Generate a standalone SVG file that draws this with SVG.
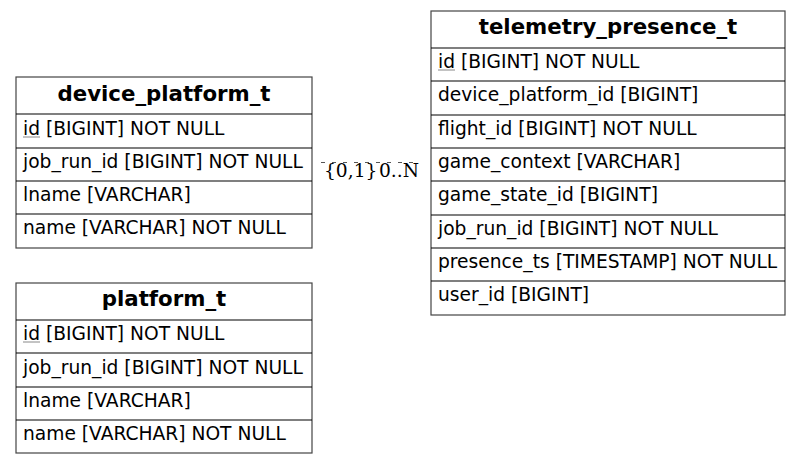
<svg xmlns="http://www.w3.org/2000/svg" width="800" height="464" viewBox="0 0 800 464">
<style>
.box{fill:#fff;stroke:#444;stroke-width:1.2}
.sep{stroke:#000;stroke-width:1.2}
.h{font-family:"DejaVu Sans",sans-serif;font-size:21.3px;font-weight:bold;text-anchor:middle;fill:#000}
.r{font-family:"DejaVu Sans",sans-serif;font-size:18.67px;fill:#000}
.u{stroke:#888;stroke-width:1}
.lbl{font-family:"DejaVu Serif",serif;font-size:18.67px;fill:#000}
.edge{stroke:#555;stroke-width:1;stroke-dasharray:4,7;fill:none}
</style>
<rect width="800" height="464" fill="#fff"/>
<g id="connectors">
<path class="edge" d="M321,162.5 L420,162.5"/>
<text class="lbl" x="324" y="177">{0,1}</text>
<text class="lbl" x="379" y="177">0..N</text>
</g>
<g id="device_platform_t">
<rect class="box" x="16" y="77" width="296" height="171"/>
<line class="sep" x1="16" y1="114" x2="312" y2="114"/>
<line class="sep" x1="16" y1="148" x2="312" y2="148"/>
<line class="sep" x1="16" y1="181" x2="312" y2="181"/>
<line class="sep" x1="16" y1="214" x2="312" y2="214"/>
<text class="h" x="164" y="101">device_platform_t</text>
<text class="r" x="23" y="135">id [BIGINT] NOT NULL</text>
<line class="u" x1="23" y1="137" x2="40" y2="137"/>
<text class="r" x="23" y="168">job_run_id [BIGINT] NOT NULL</text>
<text class="r" x="23" y="201">lname [VARCHAR]</text>
<text class="r" x="23" y="234">name [VARCHAR] NOT NULL</text>
</g>
<g id="platform_t">
<rect class="box" x="16" y="283" width="296" height="170"/>
<line class="sep" x1="16" y1="320" x2="312" y2="320"/>
<line class="sep" x1="16" y1="353" x2="312" y2="353"/>
<line class="sep" x1="16" y1="387" x2="312" y2="387"/>
<line class="sep" x1="16" y1="420" x2="312" y2="420"/>
<text class="h" x="164" y="306">platform_t</text>
<text class="r" x="23" y="340">id [BIGINT] NOT NULL</text>
<line class="u" x1="23" y1="342" x2="40" y2="342"/>
<text class="r" x="23" y="374">job_run_id [BIGINT] NOT NULL</text>
<text class="r" x="23" y="407">lname [VARCHAR]</text>
<text class="r" x="23" y="440">name [VARCHAR] NOT NULL</text>
</g>
<g id="telemetry_presence_t">
<rect class="box" x="431" y="11" width="354" height="304"/>
<line class="sep" x1="431" y1="48" x2="785" y2="48"/>
<line class="sep" x1="431" y1="81" x2="785" y2="81"/>
<line class="sep" x1="431" y1="115" x2="785" y2="115"/>
<line class="sep" x1="431" y1="148" x2="785" y2="148"/>
<line class="sep" x1="431" y1="181" x2="785" y2="181"/>
<line class="sep" x1="431" y1="215" x2="785" y2="215"/>
<line class="sep" x1="431" y1="248" x2="785" y2="248"/>
<line class="sep" x1="431" y1="281" x2="785" y2="281"/>
<text class="h" x="608" y="34">telemetry_presence_t</text>
<text class="r" x="438" y="68">id [BIGINT] NOT NULL</text>
<line class="u" x1="438" y1="70" x2="455" y2="70"/>
<text class="r" x="438" y="101">device_platform_id [BIGINT]</text>
<text class="r" x="438" y="135">flight_id [BIGINT] NOT NULL</text>
<text class="r" x="438" y="168">game_context [VARCHAR]</text>
<text class="r" x="438" y="201">game_state_id [BIGINT]</text>
<text class="r" x="438" y="235">job_run_id [BIGINT] NOT NULL</text>
<text class="r" x="438" y="268">presence_ts [TIMESTAMP] NOT NULL</text>
<text class="r" x="438" y="301">user_id [BIGINT]</text>
</g>
</svg>
